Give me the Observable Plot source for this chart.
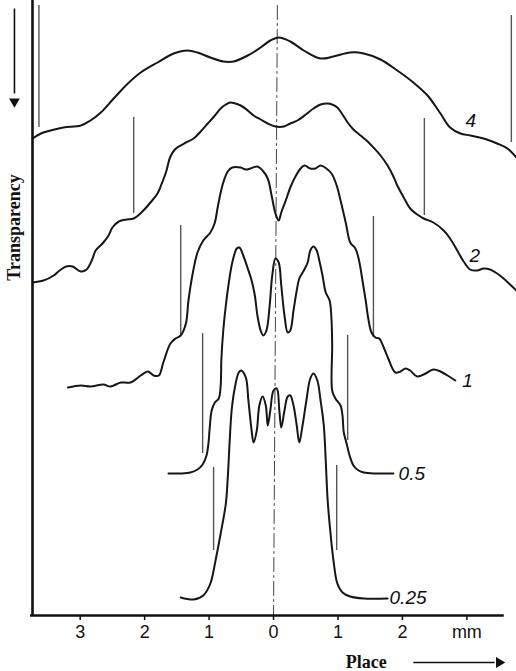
<!DOCTYPE html>
<html><head><meta charset="utf-8">
<script src="https://cdn.jsdelivr.net/npm/d3@7"></script>
<script src="https://cdn.jsdelivr.net/npm/@observablehq/plot@0.6"></script>
<style>body{margin:0;background:#fff}#chart svg{display:block}</style>
</head><body><div id="chart"></div>
<script>
// Place (mm) and transparency (arbitrary units, offset per curve)
const x4 = [-3.74,-3.61,-3.46,-3.26,-2.99,-2.84,-2.68,-2.48,-2.26,-2.06,-1.80,-1.55,-1.33,-1.18,-0.98,-0.78,-0.62,-0.40,-0.20,-0.05,0.08,0.26,0.47,0.73,0.93,1.19,1.40,1.66,1.92,2.17,2.39,2.59,2.74,2.90,3.05,3.26,3.47,3.63,3.77];
const y4 = [47.7,48.2,48.5,48.8,49.0,49.5,50.3,51.7,53.2,54.3,55.3,56.2,56.5,56.3,55.8,55.4,55.4,56.0,56.8,57.5,57.8,57.4,56.5,55.7,55.9,56.3,56.2,55.6,54.5,53.3,52.0,50.2,48.8,48.2,48.0,47.7,47.2,46.7,45.8];

const x2 = [-3.74,-3.57,-3.41,-3.32,-3.22,-3.12,-2.99,-2.90,-2.82,-2.76,-2.64,-2.56,-2.50,-2.40,-2.28,-2.17,-2.02,-1.91,-1.80,-1.74,-1.67,-1.60,-1.53,-1.47,-1.36,-1.24,-1.13,-1.02,-0.91,-0.82,-0.74,-0.67,-0.59,-0.51,-0.40,-0.31,-0.20,-0.09,0.03,0.16,0.26,0.37,0.50,0.62,0.73,0.84,0.91,0.99,1.07,1.15,1.24,1.35,1.46,1.55,1.66,1.77,1.86,1.92,2.02,2.12,2.23,2.33,2.48,2.64,2.74,2.85,2.95,3.05,3.16,3.26,3.36,3.47,3.57,3.67,3.77];
const y2 = [33.3,33.5,34.0,34.5,34.9,34.9,34.4,34.6,35.5,36.5,37.3,38.0,38.8,39.4,39.6,39.7,40.5,41.3,42.2,43.1,44.3,45.9,46.6,46.9,47.3,47.7,48.4,49.2,50.0,50.7,51.1,51.3,51.2,51.0,50.5,50.0,49.6,49.2,48.9,48.9,49.2,49.5,50.1,50.7,51.1,51.2,51.1,50.8,50.1,49.3,48.6,48.0,47.4,46.8,46.0,45.0,43.9,43.0,41.8,40.7,40.1,39.7,39.3,38.5,37.7,36.5,35.4,34.6,34.5,34.7,34.6,34.2,33.7,33.1,32.5];

const x1 = [-3.19,-2.99,-2.84,-2.64,-2.53,-2.37,-2.22,-2.06,-1.95,-1.86,-1.78,-1.71,-1.60,-1.52,-1.44,-1.36,-1.32,-1.26,-1.18,-1.09,-0.98,-0.91,-0.87,-0.82,-0.78,-0.71,-0.64,-0.51,-0.43,-0.36,-0.25,-0.17,-0.09,-0.03,0.03,0.08,0.12,0.19,0.26,0.34,0.42,0.48,0.57,0.65,0.73,0.82,0.90,0.98,1.04,1.12,1.19,1.27,1.32,1.38,1.43,1.47,1.52,1.58,1.64,1.71,1.78,1.89,1.97,2.05,2.12,2.23,2.36,2.48,2.59,2.70,2.82];
const y1 = [22.8,23.0,22.9,23.1,22.9,23.3,23.3,24.0,24.4,24.0,24.0,25.3,27.2,27.7,28.0,29.2,31.5,34.0,36.3,37.5,38.3,39.3,40.7,42.3,43.3,44.4,44.8,44.8,44.6,44.7,44.9,44.5,43.7,42.0,40.2,39.5,40.3,41.5,42.8,43.9,44.7,45.0,44.7,44.7,45.0,44.7,44.2,43.0,41.5,39.3,37.3,36.7,35.7,33.5,31.5,29.7,28.3,27.8,27.7,26.8,25.7,24.3,24.4,24.7,24.5,23.9,24.2,24.6,24.4,24.0,23.5];

const x05 = [-1.63,-1.44,-1.29,-1.18,-1.10,-1.04,-1.01,-0.99,-0.96,-0.91,-0.85,-0.82,-0.81,-0.78,-0.74,-0.70,-0.64,-0.57,-0.53,-0.47,-0.40,-0.34,-0.29,-0.25,-0.20,-0.16,-0.11,-0.06,-0.02,0.03,0.08,0.12,0.17,0.22,0.26,0.31,0.36,0.40,0.47,0.53,0.57,0.62,0.67,0.71,0.76,0.81,0.87,0.90,0.91,0.91,0.96,1.04,1.07,1.09,1.13,1.18,1.24,1.32,1.40,1.58,1.86];
const y05 = [14.2,14.2,14.3,14.6,15.1,16.0,17.2,18.8,20.5,21.3,21.7,23.0,25.5,28.5,31.0,33.0,35.3,36.7,36.8,36.0,34.7,33.5,32.0,30.0,28.5,28.0,28.5,31.0,34.0,35.7,35.3,33.0,30.0,28.3,28.5,30.5,32.5,33.7,34.5,35.3,36.5,36.9,36.5,35.5,34.0,32.3,31.5,29.5,27.0,22.5,21.7,21.0,20.0,18.3,17.3,16.0,15.0,14.5,14.3,14.2,14.2];

const x025 = [-1.44,-1.24,-1.09,-0.98,-0.90,-0.82,-0.74,-0.71,-0.68,-0.65,-0.60,-0.54,-0.50,-0.43,-0.39,-0.34,-0.31,-0.26,-0.22,-0.17,-0.12,-0.09,-0.05,0.00,0.05,0.09,0.12,0.17,0.22,0.26,0.31,0.36,0.40,0.45,0.51,0.57,0.62,0.68,0.73,0.78,0.81,0.84,0.88,0.93,0.99,1.07,1.19,1.40,1.77];
const y025 = [1.8,1.6,2.0,3.2,5.5,8.2,11.2,13.8,17.5,20.5,22.8,24.3,24.5,23.8,21.5,18.5,17.3,18.5,21.0,21.9,21.0,19.0,20.5,22.5,22.7,20.5,18.8,20.5,21.9,22.0,21.0,19.0,17.3,19.0,21.5,23.7,24.2,23.5,21.5,19.0,15.5,11.5,8.5,5.5,3.2,2.3,1.9,1.7,1.7];

// edge markers (thin vertical lines) for each curve
const markerCurve = ["4","4","2","2","1","1","0.5","0.5","0.25","0.25"];
const markerX = [-3.64,3.69,-2.17,2.34,-1.44,1.55,-1.10,1.15,-0.93,0.98];
const markerTop = [61.0,60.0,49.8,49.7,39.0,39.9,28.2,28.0,14.8,15.0];
const markerBottom = [48.8,47.3,40.2,40.0,28.0,27.8,16.2,17.5,6.5,6.5];

// curve labels
const labelText = ["4","2","1","0.5","0.25"];
const labelX = [2.98,3.04,2.93,1.94,1.80];
const labelY = [49.5,36.0,23.5,14.2,1.8];

// axis
const tickValues = [-3,-2,-1,0,1,2,3];
const tickLabels = ["3","2","1","0","1","2","mm"];
const xAxisExtent = [-3.77, 3.58];
const centerLineX = [0.06, 0.0];
const centerLineY = [61.0, 0.0];

const series = [
  {name:"4", xs:x4, ys:y4},
  {name:"2", xs:x2, ys:y2},
  {name:"1", xs:x1, ys:y1},
  {name:"0.5", xs:x05, ys:y05},
  {name:"0.25", xs:x025, ys:y025}
];
const lineData = series.flatMap(s => s.xs.map((x, i) => ({curve: s.name, x, y: s.ys[i]})));
const markers = markerCurve.map((c, i) => ({curve: c, x: markerX[i], y1: markerTop[i], y2: markerBottom[i]}));
const labels = labelText.map((t, i) => ({t, x: labelX[i], y: labelY[i]}));
const center = centerLineX.map((x, i) => ({x, y: centerLineY[i]}));

const plot = Plot.plot({
  width: 516, height: 671,
  marginLeft: 32, marginRight: 0, marginTop: 0, marginBottom: 56,
  x: {domain: [-3.74, 3.77], axis: null},
  y: {domain: [0, 61.5], axis: null},
  style: {background: "#fff", color: "#111"},
  marks: [
    Plot.line(center, {x: "x", y: "y", stroke: "#444", strokeWidth: 1, strokeDasharray: "14,4,2,4"}),
    Plot.ruleX(markers, {x: "x", y1: "y1", y2: "y2", stroke: "#555", strokeWidth: 1.4}),
    Plot.line(lineData, {x: "x", y: "y", z: "curve", stroke: "#161616", strokeWidth: 2, curve: "catmull-rom"}),
    Plot.text(labels, {x: "x", y: "y", text: "t", textAnchor: "start", fontStyle: "italic", fontSize: 19, fontFamily: "Liberation Sans, Arial, sans-serif", fill: "#111"}),
    // axes
    Plot.ruleX([xAxisExtent[0] + 0.03], {stroke: "#111", strokeWidth: 2.6}),
    Plot.ruleY([0], {x1: xAxisExtent[0], x2: xAxisExtent[1], stroke: "#111", strokeWidth: 2.6}),
    Plot.axisX({ticks: tickValues, tickFormat: d => tickLabels[tickValues.indexOf(d)], tickSize: 5, tickPadding: 5, fontSize: 18, fontFamily: "Liberation Sans Narrow, Liberation Sans, Arial, sans-serif", label: null, stroke: "#111", strokeWidth: 1.5}),
    // Transparency label + arrow
    Plot.text(["Transparency"], {x: -4.02, y: 38.8, rotate: -90, fontFamily: "Liberation Serif, Times New Roman, serif", fontWeight: "bold", fontSize: 18, fill: "#111"}),
    Plot.link([{x: -4.02, y1: 60.7, y2: 52.2}], {x1: "x", x2: "x", y1: "y1", y2: "y2", stroke: "#111", strokeWidth: 1.6}),
    Plot.dot([{x: -4.02, y: 51.4}], {x: "x", y: "y", symbol: "triangle", r: 4, rotate: 180, fill: "#111", stroke: null}),
    // Place label + arrow
    Plot.text(["Place"], {x: 1.44, y: -4.7, fontFamily: "Liberation Serif, Times New Roman, serif", fontWeight: "bold", fontSize: 18, fill: "#111"}),
    Plot.link([{x1: 2.17, x2: 3.43, y: -4.7}], {x1: "x1", x2: "x2", y1: "y", y2: "y", stroke: "#111", strokeWidth: 1.6}),
    Plot.dot([{x: 3.5, y: -4.7}], {x: "x", y: "y", symbol: "triangle", r: 4, rotate: 90, fill: "#111", stroke: null})
  ]
});
document.getElementById("chart").appendChild(plot);
</script>
</body></html>
